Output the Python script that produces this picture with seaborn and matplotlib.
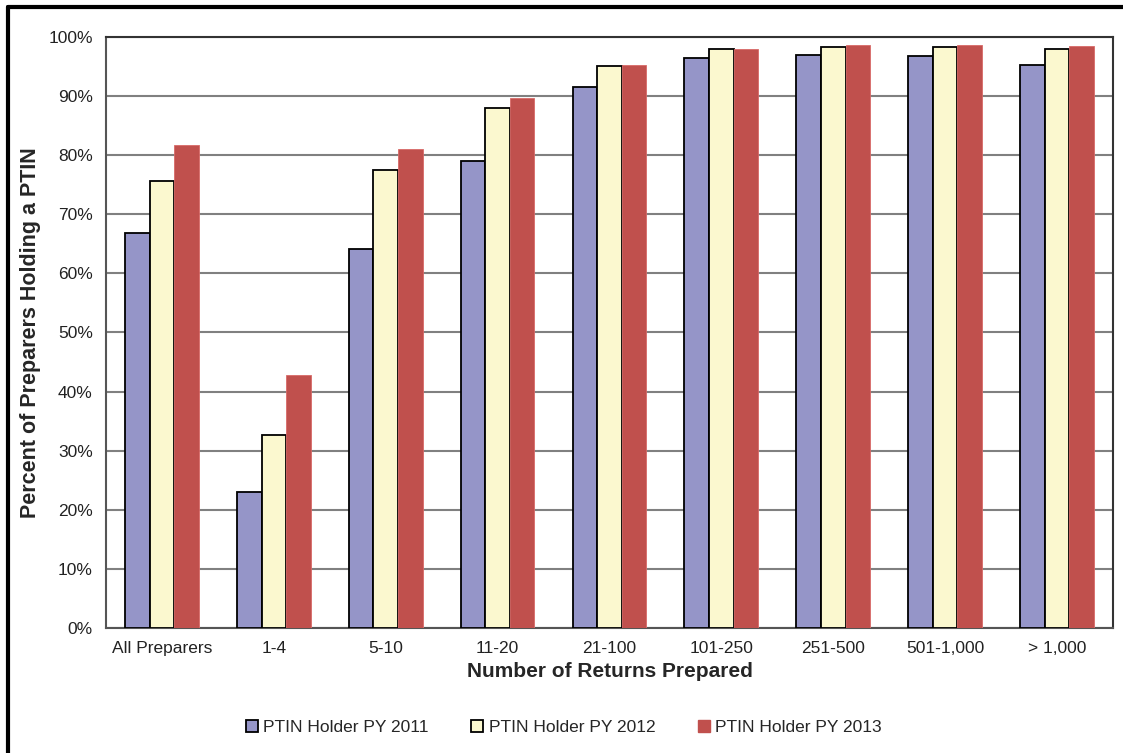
import numpy as np
import pandas as pd
import seaborn as sns
import matplotlib.pyplot as plt
from matplotlib.patches import Patch
from matplotlib.lines import Line2D
from matplotlib.ticker import PercentFormatter

categories = ['All Preparers', '1-4', '5-10', '11-20', '21-100',
              '101-250', '251-500', '501-1,000', '> 1,000']
series = ['PTIN Holder PY 2011', 'PTIN Holder PY 2012', 'PTIN Holder PY 2013']
py2011 = [66.8, 23.0, 64.2, 79.0, 91.6, 96.4, 97.0, 96.8, 95.3]
py2012 = [75.7, 32.6, 77.5, 88.0, 95.1, 97.9, 98.3, 98.3, 97.9]
py2013 = [81.7, 42.8, 81.0, 89.7, 95.3, 98.0, 98.7, 98.7, 98.4]
colors = ['#9595C8', '#FBF8CF', '#C0504D']

df = pd.DataFrame({
    'category': categories * 3,
    'series': np.repeat(series, len(categories)),
    'value': py2011 + py2012 + py2013,
})

sns.set_style('white')
plt.rcParams['font.family'] = ['Liberation Sans', 'DejaVu Sans']

fig = plt.figure(figsize=(11.23, 7.53), dpi=100)
ax = fig.add_axes([0.0944, 0.166, 0.8966, 0.785])

sns.barplot(data=df, x='category', y='value', hue='series', order=categories,
            hue_order=series, palette=colors, width=0.66, gap=0,
            saturation=1, legend=False, ax=ax, zorder=3)

# black outlines on the first two series, none on the red one
for i, patch in enumerate(ax.patches):
    if i < 2 * len(categories):
        patch.set_edgecolor('black')
        patch.set_linewidth(1.3)
    else:
        patch.set_edgecolor('#D86A68')
        patch.set_linewidth(0.6)

ax.set_ylim(0, 100)
ax.set_xlim(-0.5, len(categories) - 0.5)
ax.set_yticks(np.arange(0, 101, 10))
ax.yaxis.set_major_formatter(PercentFormatter(decimals=0))
ax.grid(axis='y', color='#808080', linewidth=1.5, zorder=0)
ax.set_axisbelow(True)

ax.set_xticks(range(len(categories)))
ax.set_xticklabels(categories)
ax.set_xticks(np.arange(-0.5, len(categories), 1), minor=True)
ax.tick_params(axis='x', which='major', length=0, labelsize=12.5, pad=9, labelcolor='#222222')
ax.tick_params(axis='x', which='minor', length=6, width=1.2, color='#555555', direction='out')
ax.tick_params(axis='y', length=6, width=1.2, color='#555555', direction='out',
               labelsize=12.5, labelcolor='#222222')

for side in ['top', 'right', 'bottom', 'left']:
    ax.spines[side].set_visible(True)
    ax.spines[side].set_color('#333333')
    ax.spines[side].set_linewidth(1.5)
ax.spines['left'].set_color('#555555')
ax.spines['bottom'].set_color('#555555')

ax.set_xlabel('Number of Returns Prepared', fontsize=15, fontweight='bold', labelpad=5)
ax.set_ylabel('Percent of Preparers Holding a PTIN', fontsize=15.5, fontweight='bold', labelpad=5)

handles = [Patch(facecolor=colors[0], edgecolor='black', linewidth=1.3),
           Patch(facecolor=colors[1], edgecolor='black', linewidth=1.3),
           Patch(facecolor=colors[2], edgecolor=colors[2])]
fig.legend(handles, series, loc='center', bbox_to_anchor=(0.502, 0.034), ncol=3,
           frameon=False, fontsize=12.5, handlelength=0.7, handleheight=0.7,
           handletextpad=0.3, columnspacing=2.45)

# partial outer frame: top and left edges only
x0, y0 = 8 / 1123, 1 - 7 / 753
fig.add_artist(Line2D([x0, 1], [y0, y0], transform=fig.transFigure, color='black', linewidth=3))
fig.add_artist(Line2D([x0, x0], [0, y0], transform=fig.transFigure, color='black', linewidth=3))

plt.savefig('out.png', dpi=100)
